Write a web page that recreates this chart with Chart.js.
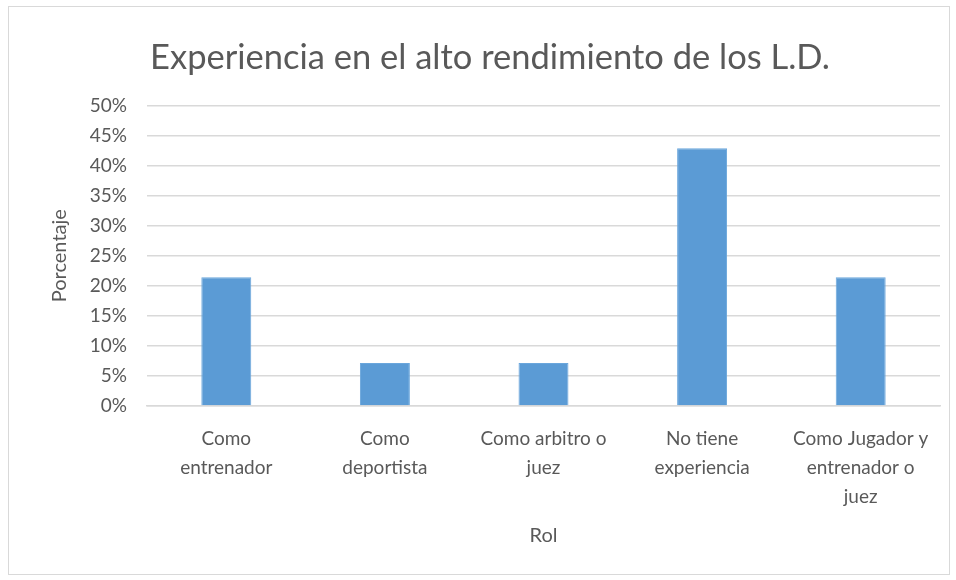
<!DOCTYPE html>
<html>
<head>
<meta charset="utf-8">
<title>Experiencia en el alto rendimiento</title>
<script src="https://cdn.jsdelivr.net/npm/chart.js@4/dist/chart.umd.min.js"></script>
<style>
  html, body { margin: 0; padding: 0; background: #fff; }
  #wrap { width: 956px; height: 580px; position: relative; }
</style>
</head>
<body>
<div id="wrap"><canvas id="rol-chart"></canvas></div>
<script>
const categories = [
    ['Como', 'entrenador'],
    ['Como', 'deportista'],
    ['Como arbitro o', 'juez'],
    ['No tiene', 'experiencia'],
    ['Como Jugador y', 'entrenador o', 'juez']
]
const porcentajes = [21.43, 7.14, 7.14, 42.86, 21.43]
const y_max = 50
const y_step = 5

const text_color = '#595959'
const grid_color = '#d9d9d9'
const font_family = 'Lato, "Open Sans", sans-serif'

// thin grey frame around the whole chart
const frame = {
    id: 'frame',
    beforeDraw(chart) {
        let c = chart.ctx
        c.save()
        c.fillStyle = '#fff'
        c.fillRect(0, 0, chart.width, chart.height)
        c.strokeStyle = '#d9d9d9'
        c.lineWidth = 1
        c.strokeRect(8.5, 6.5, 941, 568)
        c.restore()
    }
}

let ctx = document.getElementById('rol-chart')

let my_chart = new Chart(ctx, {
    type: 'bar',
    plugins: [frame],
    data: {
        labels: categories,
        datasets: [{
            data: porcentajes,
            backgroundColor: '#5b9bd5',
            borderColor: '#6aa6dc',
            borderWidth: 1,
            barPercentage: 0.315,
            categoryPercentage: 1
        }]
    },
    options: {
        responsive: true,
        maintainAspectRatio: false,
        animation: false,
        layout: { padding: { left: 40, right: 16, top: 0, bottom: 0 } },
        plugins: {
            legend: { display: false },
            tooltip: { enabled: false },
            title: {
                display: true,
                text: 'Experiencia en el alto rendimiento de los L.D.',
                color: text_color,
                font: { family: font_family, size: 34.5, weight: 'normal' },
                padding: { top: 37, bottom: 27 }
            }
        },
        scales: {
            y: {
                min: 0,
                max: y_max,
                afterFit(scale) { scale.width = 107 },
                border: { display: false },
                grid: { color: grid_color, lineWidth: 1.6, drawTicks: false },
                ticks: {
                    stepSize: y_step,
                    padding: 20,
                    color: text_color,
                    font: { family: font_family, size: 19 },
                    callback: v => v + '%'
                },
                title: {
                    display: true,
                    text: 'Porcentaje',
                    color: text_color,
                    font: { family: font_family, size: 20 },
                    padding: { top: 8, bottom: 0 }
                }
            },
            x: {
                afterFit(scale) { scale.height = 174 },
                border: { color: grid_color, width: 1.6 },
                grid: { display: false },
                ticks: {
                    padding: 10,
                    maxRotation: 0,
                    autoSkip: false,
                    color: text_color,
                    font: { family: font_family, size: 19, lineHeight: 1.53 }
                },
                title: {
                    display: true,
                    text: 'Rol',
                    color: text_color,
                    font: { family: font_family, size: 20 },
                    padding: { top: 0, bottom: 32 }
                }
            }
        }
    }
})
</script>
</body>
</html>
